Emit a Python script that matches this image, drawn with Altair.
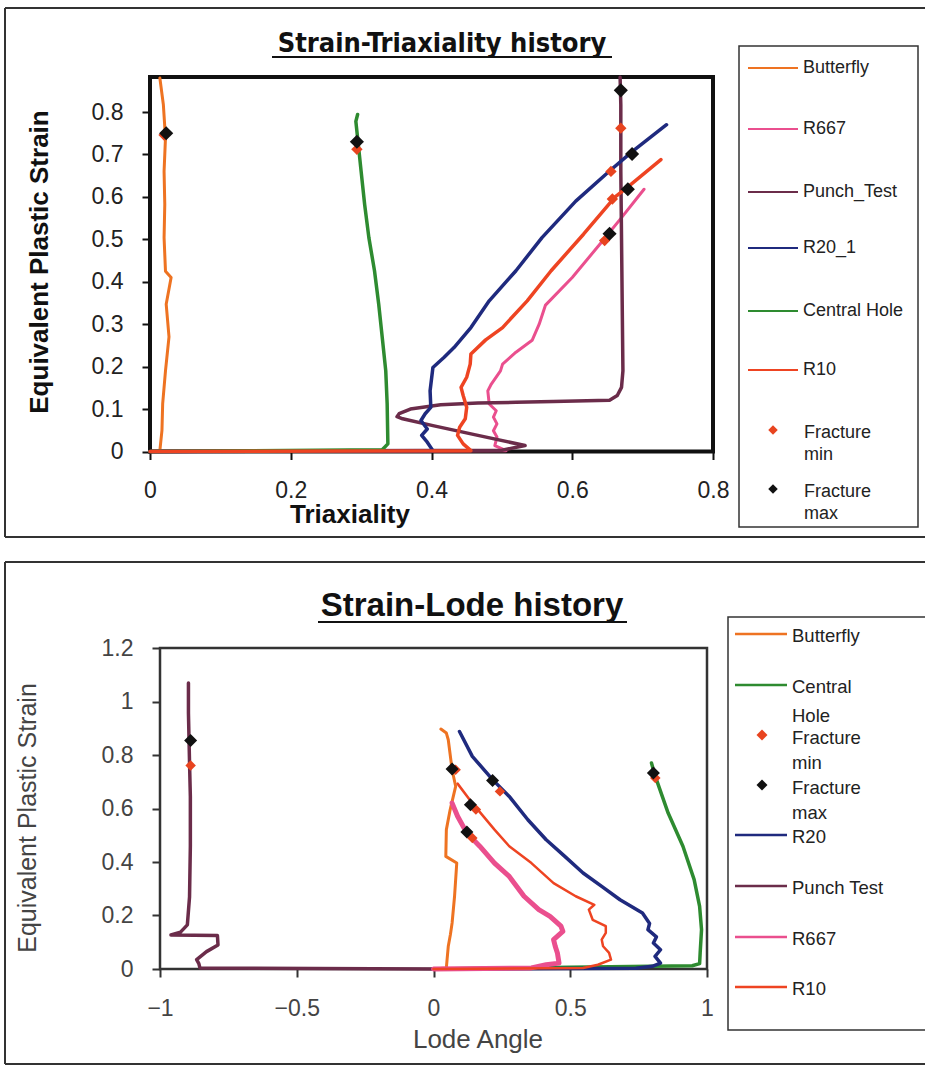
import altair as alt
import pandas as pd

# ================= Strain-Triaxiality history (top panel) =================
top_names = ["Butterfly", "R667", "Punch_Test", "R20_1", "Central Hole", "R10"]

top_butterfly_x = [0.0, 0.014, 0.017, 0.018, 0.022, 0.027, 0.023, 0.030, 0.022, 0.020, 0.021, 0.020, 0.022, 0.019, 0.014]
top_butterfly_y = [0.0, 0.002, 0.050, 0.112, 0.190, 0.270, 0.347, 0.410, 0.425, 0.504, 0.582, 0.660, 0.739, 0.817, 0.880]

top_r667_x = [0.0, 0.506, 0.490, 0.493, 0.488, 0.493, 0.488, 0.492, 0.482, 0.480, 0.485, 0.498, 0.501, 0.520, 0.543, 0.553, 0.562, 0.600, 0.643, 0.670, 0.702]
top_r667_y = [0.0, 0.002, 0.014, 0.034, 0.049, 0.065, 0.081, 0.096, 0.112, 0.143, 0.159, 0.190, 0.206, 0.234, 0.262, 0.300, 0.345, 0.410, 0.496, 0.551, 0.618]

top_punch_x = [0.0, 0.500, 0.533, 0.466, 0.402, 0.359, 0.351, 0.354, 0.370, 0.413, 0.466, 0.520, 0.573, 0.653, 0.664, 0.670, 0.672, 0.671, 0.670, 0.669, 0.669, 0.668]
top_punch_y = [0.0, 0.003, 0.014, 0.038, 0.061, 0.077, 0.082, 0.089, 0.100, 0.110, 0.114, 0.116, 0.118, 0.121, 0.132, 0.151, 0.190, 0.347, 0.504, 0.661, 0.817, 0.882]

top_r20_x = [0.0, 0.402, 0.394, 0.386, 0.394, 0.385, 0.391, 0.399, 0.398, 0.402, 0.418, 0.432, 0.456, 0.482, 0.520, 0.557, 0.605, 0.653, 0.686, 0.734]
top_r20_y = [0.0, 0.002, 0.022, 0.038, 0.053, 0.073, 0.089, 0.104, 0.143, 0.198, 0.222, 0.245, 0.292, 0.355, 0.426, 0.504, 0.590, 0.661, 0.708, 0.770]

top_central_x = [0.0, 0.330, 0.338, 0.337, 0.335, 0.330, 0.325, 0.319, 0.311, 0.305, 0.300, 0.295, 0.2925, 0.295]
top_central_y = [0.0, 0.004, 0.018, 0.112, 0.190, 0.269, 0.347, 0.426, 0.504, 0.582, 0.660, 0.739, 0.778, 0.794]

top_r10_x = [0.0, 0.456, 0.445, 0.437, 0.440, 0.448, 0.450, 0.445, 0.442, 0.450, 0.455, 0.456, 0.477, 0.501, 0.536, 0.570, 0.616, 0.661, 0.680, 0.726]
top_r10_y = [0.0, 0.002, 0.018, 0.038, 0.057, 0.077, 0.104, 0.132, 0.151, 0.175, 0.206, 0.230, 0.263, 0.292, 0.355, 0.426, 0.512, 0.600, 0.625, 0.688]

# fracture points, same order as top_names
top_min_x = [0.020, 0.646, 0.669, 0.655, 0.294, 0.657]
top_min_y = [0.746, 0.497, 0.762, 0.660, 0.712, 0.595]
top_max_x = [0.023, 0.653, 0.669, 0.685, 0.294, 0.679]
top_max_y = [0.750, 0.513, 0.851, 0.701, 0.730, 0.618]

top_x_ticks = [0, 0.2, 0.4, 0.6, 0.8]
top_y_ticks = [0, 0.1, 0.2, 0.3, 0.4, 0.5, 0.6, 0.7, 0.8]

# ================= Strain-Lode history (bottom panel) =================
bot_names = ["Butterfly", "Central Hole", "R20", "Punch Test", "R667", "R10"]

bot_butterfly_x = [0.0, 0.047, 0.050, 0.054, 0.062, 0.068, 0.077, 0.085, 0.045, 0.047, 0.061, 0.081, 0.068, 0.054, 0.047, 0.027]
bot_butterfly_y = [0.0, 0.004, 0.040, 0.085, 0.130, 0.172, 0.272, 0.396, 0.421, 0.521, 0.596, 0.683, 0.745, 0.857, 0.882, 0.897]

bot_central_x = [0.0, 0.946, 0.973, 0.975, 0.980, 0.973, 0.953, 0.912, 0.858, 0.811, 0.797]
bot_central_y = [0.0, 0.012, 0.020, 0.060, 0.147, 0.234, 0.334, 0.459, 0.583, 0.720, 0.770]

bot_r20_x = [0.0, 0.740, 0.800, 0.830, 0.810, 0.830, 0.804, 0.815, 0.784, 0.790, 0.764, 0.682, 0.615, 0.547, 0.480, 0.412, 0.345, 0.277, 0.216, 0.142, 0.095]
bot_r20_y = [0.0, 0.003, 0.010, 0.022, 0.047, 0.072, 0.097, 0.120, 0.147, 0.170, 0.209, 0.259, 0.309, 0.359, 0.421, 0.483, 0.558, 0.645, 0.708, 0.795, 0.888]

bot_punch_x = [0.0, -0.854, -0.858, -0.866, -0.830, -0.788, -0.790, -0.960, -0.925, -0.900, -0.892, -0.889, -0.889, -0.892, -0.896, -0.896]
bot_punch_y = [0.0, 0.004, 0.020, 0.035, 0.065, 0.090, 0.125, 0.127, 0.138, 0.165, 0.270, 0.460, 0.645, 0.770, 0.957, 1.069]

bot_r667_x = [0.0, 0.358, 0.412, 0.459, 0.453, 0.445, 0.439, 0.473, 0.466, 0.426, 0.385, 0.331, 0.277, 0.223, 0.169, 0.122, 0.088, 0.068]
bot_r667_y = [0.0, 0.004, 0.016, 0.022, 0.060, 0.085, 0.110, 0.141, 0.160, 0.197, 0.222, 0.272, 0.346, 0.396, 0.459, 0.508, 0.571, 0.620]

bot_r10_x = [0.0, 0.547, 0.601, 0.649, 0.642, 0.620, 0.615, 0.630, 0.630, 0.582, 0.568, 0.588, 0.520, 0.439, 0.358, 0.277, 0.223, 0.142, 0.088]
bot_r10_y = [0.0, 0.004, 0.016, 0.035, 0.060, 0.085, 0.110, 0.135, 0.160, 0.184, 0.222, 0.240, 0.272, 0.321, 0.396, 0.459, 0.521, 0.620, 0.693]

# fracture points, same order as bot_names
bot_min_x = [0.081, 0.811, 0.243, -0.888, 0.142, 0.155]
bot_min_y = [0.745, 0.714, 0.664, 0.761, 0.490, 0.596]
bot_max_x = [0.068, 0.804, 0.216, -0.888, 0.122, 0.135]
bot_max_y = [0.748, 0.733, 0.705, 0.854, 0.512, 0.614]

bot_x_ticks = [-1, -0.5, 0, 0.5, 1]
bot_y_ticks = [0, 0.2, 0.4, 0.6, 0.8, 1, 1.2]

# ================= styling =================
C = {
    "Butterfly": "#EE7322", "R667": "#EA4F8E", "Punch_Test": "#6B2C4A", "Punch Test": "#6B2C4A",
    "R20_1": "#1F2A7E", "R20": "#1F2A7E", "Central Hole": "#2E8B30", "R10": "#EE4422",
}
C_MIN = "#E8441F"
C_MAX = "#111111"
W, H = 925, 1068
SANS = "Liberation Sans"

one = pd.DataFrame({"d": [0]})


def text(t, x, y, size, color="#111", weight="normal", font=SANS, angle=0, align="left", baseline="middle"):
    return alt.Chart(one).mark_text(text=t, font=font, fontSize=size, fontWeight=weight, color=color,
                                    angle=angle, align=align, baseline=baseline).encode(
        x=alt.value(x), y=alt.value(y))


def rule(x, y, x2=None, y2=None, color="#333", width=2):
    enc = dict(x=alt.value(x), y=alt.value(y))
    if x2 is not None:
        enc["x2"] = alt.value(x2)
    if y2 is not None:
        enc["y2"] = alt.value(y2)
    return alt.Chart(one).mark_rule(color=color, strokeWidth=width).encode(**enc)


def box(x, y, x2, y2, color, width):
    return alt.Chart(one).mark_rect(fillOpacity=0, stroke=color, strokeWidth=width).encode(
        x=alt.value(x), x2=alt.value(x2), y=alt.value(y), y2=alt.value(y2))


def panel(series, mins, maxs, xscale, yscale, xaxis, yaxis, msize):
    layers = []
    enc = lambda: dict(x=alt.X("x:Q", scale=xscale, axis=xaxis),
                       y=alt.Y("y:Q", scale=yscale, axis=yaxis))
    for name, xs, ys, width in series:
        df = pd.DataFrame({"x": xs, "y": ys, "i": list(range(len(xs)))})
        layers.append(alt.Chart(df).mark_line(color=C[name], strokeWidth=width, strokeJoin="round",
                                              strokeCap="round").encode(order="i:Q", **enc()))
    (mnx, mny), (mxx, mxy) = mins, maxs
    layers.append(alt.Chart(pd.DataFrame({"x": mnx, "y": mny})).mark_point(
        shape="diamond", filled=True, opacity=1, color=C_MIN, size=msize[0]).encode(**enc()))
    layers.append(alt.Chart(pd.DataFrame({"x": mxx, "y": mxy})).mark_point(
        shape="diamond", filled=True, opacity=1, color=C_MAX, size=msize[1]).encode(**enc()))
    return alt.layer(*layers)


# ---------- top panel geometry ----------
TX0, TX1, TY0, TY1 = 150, 713, 77, 451.5
top_xscale = alt.Scale(domain=[0, 0.8], range=[TX0, TX1], nice=False, zero=False)
top_yscale = alt.Scale(domain=[0, 0.8825], range=[TY1, TY0], nice=False, zero=False)
top_xaxis = alt.Axis(orient="bottom", offset=TY1 - H, values=top_x_ticks, format="~g", grid=False,
                     domain=False, tickSize=8, tickWidth=2, tickColor="#111", labelFont=SANS,
                     labelFontSize=23, labelColor="#222", labelBaseline="middle", labelPadding=31,
                     labelFlush=False, labelOverlap=False, title=None)
top_yaxis = alt.Axis(orient="left", offset=-TX0, values=top_y_ticks, format="~g", grid=False,
                     domain=False, tickSize=8, tickWidth=2, tickColor="#111", labelFont=SANS,
                     labelFontSize=23, labelColor="#222", labelPadding=19, labelFlush=False,
                     labelOverlap=False, title=None)

top_series = [
    ("Butterfly", top_butterfly_x, top_butterfly_y, 3),
    ("R667", top_r667_x, top_r667_y, 3),
    ("Punch_Test", top_punch_x, top_punch_y, 3.5),
    ("R20_1", top_r20_x, top_r20_y, 3.5),
    ("Central Hole", top_central_x, top_central_y, 3.5),
    ("R10", top_r10_x, top_r10_y, 3.5),
]
top_panel = panel(top_series, (top_min_x, top_min_y), (top_max_x, top_max_y),
                  top_xscale, top_yscale, top_xaxis, top_yaxis, (130, 200))

# ---------- bottom panel geometry ----------
BX0, BX1, BY0, BY1 = 160, 707, 648, 969
bot_xscale = alt.Scale(domain=[-1, 1], range=[BX0, BX1], nice=False, zero=False)
bot_yscale = alt.Scale(domain=[0, 1.2], range=[BY1, BY0], nice=False, zero=False)
bot_xaxis = alt.Axis(orient="bottom", offset=BY1 - H, values=bot_x_ticks, format="~g", grid=False,
                     domain=False, tickSize=8, tickWidth=2, tickColor="#333", labelFont=SANS,
                     labelFontSize=23, labelColor="#444", labelBaseline="middle", labelPadding=31,
                     labelFlush=False, labelOverlap=False, title=None)
bot_yaxis = alt.Axis(orient="left", offset=-BX0, values=bot_y_ticks, format="~g", grid=False,
                     domain=False, tickSize=8, tickWidth=2, tickColor="#333", labelFont=SANS,
                     labelFontSize=23, labelColor="#444", labelPadding=19, labelFlush=False,
                     labelOverlap=False, title=None)

bot_series = [
    ("Butterfly", bot_butterfly_x, bot_butterfly_y, 3),
    ("Central Hole", bot_central_x, bot_central_y, 3.5),
    ("R20", bot_r20_x, bot_r20_y, 3.5),
    ("Punch Test", bot_punch_x, bot_punch_y, 3.5),
    ("R667", bot_r667_x, bot_r667_y, 5),
    ("R10", bot_r10_x, bot_r10_y, 2.5),
]
bot_panel = panel(bot_series, (bot_min_x, bot_min_y), (bot_max_x, bot_max_y),
                  bot_xscale, bot_yscale, bot_xaxis, bot_yaxis, (110, 170))

# ---------- decorations ----------
deco = [
    # outer frames
    rule(5, 8, y2=537), rule(5, 8, x2=W), rule(5, 537, x2=W),
    rule(5, 562, y2=1064), rule(5, 562, x2=W), rule(5, 1064, x2=W),
    # plot frames
    box(TX0, TY0, TX1, TY1, "#111", 4),
    box(BX0, BY0, BX1, BY1, "#333", 2.5),
    # titles
    text("Strain-Triaxiality history", 442, 52, 27, weight="bold", font="DejaVu Sans Condensed",
         align="center", baseline="alphabetic"),
    rule(272, 57, x2=612, color="#111", width=2),
    text("Strain-Lode history", 472, 616, 33, weight="bold", align="center", baseline="alphabetic"),
    rule(318, 622, x2=627, color="#111", width=2),
    # axis titles
    text("Equivalent Plastic Strain", 40, 262, 26, weight="bold", angle=270, align="center"),
    text("Triaxiality", 350, 515, 26, weight="bold", align="center"),
    text("Equivalent Plastic Strain", 28, 818, 25, color="#444", angle=270, align="center"),
    text("Lode Angle", 478, 1040, 26, color="#444", align="center"),
    # legend boxes
    box(739, 46, 918, 527, "#333", 1.5),
    box(728, 617, 932, 1030, "#333", 1.5),
]

legend = []
# top legend
for name, yy in zip(top_names, [68, 129, 192, 248, 311, 370]):
    legend.append(rule(748, yy, x2=798, color=C[name], width=2))
    legend.append(text(name, 803, yy, 18, color="#222"))
for col, yy, lines in [(C_MIN, 430, ["Fracture", "min"]), (C_MAX, 489, ["Fracture", "max"])]:
    legend.append(alt.Chart(one).mark_point(shape="diamond", filled=True, opacity=1, color=col, size=90)
                  .encode(x=alt.value(773), y=alt.value(yy)))
    legend.append(text(lines[0], 804, yy + 3, 18, color="#222"))
    legend.append(text(lines[1], 804, yy + 25, 18, color="#222"))

# bottom legend
BF = 18.5
bot_leg_lines = [("Butterfly", 634, ["Butterfly"]), ("Central Hole", 685, ["Central", "Hole"]),
                 ("R20", 835, ["R20"]), ("Punch Test", 886, ["Punch Test"]),
                 ("R667", 937, ["R667"]), ("R10", 987, ["R10"])]
for name, yy, lines in bot_leg_lines:
    legend.append(rule(735, yy, x2=787, color=C[name], width=2.5))
    for k, t in enumerate(lines):
        legend.append(text(t, 792, yy + 2 + 29 * k, BF, color="#222"))
for col, yy, lines in [(C_MIN, 735, ["Fracture", "min"]), (C_MAX, 785, ["Fracture", "max"])]:
    legend.append(alt.Chart(one).mark_point(shape="diamond", filled=True, opacity=1, color=col, size=120)
                  .encode(x=alt.value(762), y=alt.value(yy)))
    legend.append(text(lines[0], 792, yy + 3, BF, color="#222"))
    legend.append(text(lines[1], 792, yy + 28, BF, color="#222"))

chart = alt.layer(*deco[:8], top_panel, bot_panel, *deco[8:], *legend).resolve_scale(
    x="independent", y="independent"
).properties(
    width=W, height=H, autosize=alt.AutoSizeParams(type="none"), padding=0
).configure_view(strokeWidth=0)

chart.save("out.html", embed_options={"renderer": "svg", "actions": False})
